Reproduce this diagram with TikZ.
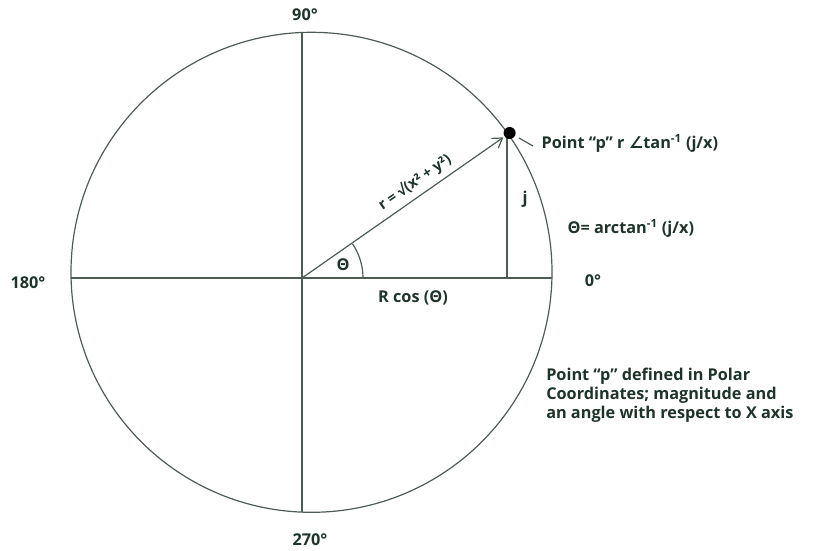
\documentclass[tikz,border=0pt]{standalone}
\usepackage{fontspec}
\setmainfont{Open Sans}
\newfontfamily\symfont{DejaVu Sans}
\usepackage{xcolor}
\definecolor{InkGreen} {RGB}{30, 52, 42}
\definecolor{LineGray} {RGB}{78, 92, 84}
\usepackage{tikz}
\usetikzlibrary{arrows.meta, positioning, calc}

\begin{document}
\begin{tikzpicture}[
  x=0.75pt, y=-0.75pt,
  font=\bfseries\fontsize{12.2}{14.3}\selectfont,
  axis/.style={draw=LineGray, line width=0.9pt},
  lbl/.style={text=InkGreen, inner sep=1pt},
  note/.style={text=InkGreen, align=left, inner sep=0pt, anchor=north west}
]
\useasboundingbox (0,0) rectangle (814,550);

% Punkte
\coordinate (O) at (302,278);
\coordinate (P) at (509.6,133);
\coordinate (F) at (507,278);
\coordinate (W) at (71,278);
\coordinate (E) at (552,278);
\coordinate (N) at (302,32);
\coordinate (S) at (302,512);
\coordinate (A) at ($(O)!0.97!(P)$);

% Kreis und Achsen
\draw[axis] (311.5,272.3) ellipse [x radius=240.5, y radius=240];
\draw[axis] (W) -- (E);
\draw[axis] (N) -- (S);
\draw[axis] (F) -- (507,137);

% Radius mit Pfeil
\draw[axis, -{Straight Barb[length=7pt, width=9pt]}] (O) -- (A)
  node[lbl, pos=0.6, above=3pt, sloped, font=\bfseries\fontsize{11}{12}\selectfont]
  (rlabel) {r = √(x² + y²)};
\draw[axis] (363,278) arc[start angle=0, end angle=-34, radius=61];
\fill[black] (P) circle[radius=6];
\draw[axis] (519,138) -- (533,146);

% Winkelbeschriftungen
\foreach \pos/\txt/\nm in {{(305,15)}/90°/deg90, {(310,540)}/270°/deg270,
                           {(28,283)}/180°/deg180, {(593,281)}/0°/deg0} {
  \node[lbl] (\nm) at \pos {\txt};
}

\node[lbl, anchor=west] (plabel) at (540,143)
  {Point “p” r {\symfont ∠}tan\textsuperscript{-1} (j/x)};
\node[lbl] (jlabel) at (525,199) {j};
\node[lbl, anchor=west] (alabel) at (566,228)
  {Θ= arctan\textsuperscript{-1} (j/x)};
\node[lbl] (theta) at (343,265) {Θ};
\node[lbl] (rcos) at (413,298) {R cos (Θ)};

\node[note] (desc) at (546,368)
  {Point “p” defined in Polar\\
   Coordinates; magnitude and\\
   an angle with respect to X axis};
\end{tikzpicture}
\end{document}
